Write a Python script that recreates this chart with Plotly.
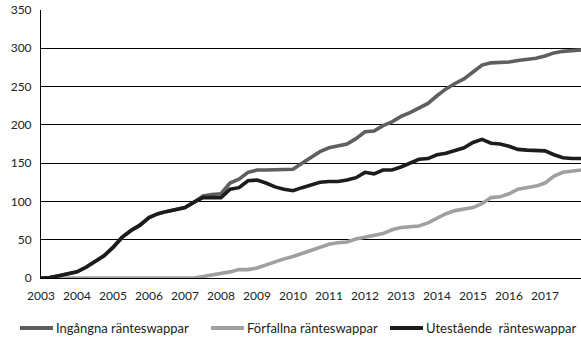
import plotly.graph_objects as go

# Quarterly observations, number of interest rate swaps
quarters = [2003 + 0.25 * i for i in range(61)]

ingangna = [0, 0.5, 3, 5, 8, 14, 22, 29, 40, 53, 62, 69, 79, 84, 87, 90, 92,
            99, 107, 109, 110, 124, 129, 138, 141, 141, 141, 141, 142, 150, 157,
            165, 170, 172, 175, 182, 191, 192, 199, 204, 211, 216, 222, 228, 238,
            247, 254, 260, 269, 278, 281, 281, 282, 284, 285, 287, 290, 294, 296,
            297, 298]

forfallna = [0, 0, 0, 0, 0, 0, 0, 0, 0, 0, 0, 0, 0, 0, 0, 0, 0,
             0, 2, 4, 5, 8, 11, 11, 13, 17, 22, 25, 28, 32, 36,
             40, 44, 46, 47, 51, 53, 56, 58, 63, 66, 67, 68, 72, 78,
             84, 88, 90, 92, 97, 105, 106, 110, 116, 118, 120, 124, 133, 138,
             140, 141]

utestaende = [0, 0.5, 3, 5, 8, 14, 22, 29, 40, 53, 62, 69, 79, 84, 87, 90, 92,
              99, 105, 105, 105, 116, 118, 127, 128, 124, 119, 116, 114, 118, 121,
              125, 126, 126, 128, 131, 138, 136, 141, 141, 145, 150, 155, 156, 161,
              163, 166, 170, 177, 181, 176, 175, 172, 168, 167, 167, 166, 161, 157,
              156, 156]

series = [
    ("Ingångna ränteswappar", ingangna, "#5f5f5f"),
    ("Förfallna ränteswappar", forfallna, "#a0a0a0"),
    ("Utestående  ränteswappar", utestaende, "#1c1c1c"),
]

year_ticks = list(range(2003, 2018))
y_ticks = list(range(0, 351, 50))

W, H = 581, 341
M_L, M_R, M_T, M_B = 41, 0, 10, 63
plot_w = W - M_L - M_R
plot_h = H - M_T - M_B

fig = go.Figure()
for name, values, color in series:
    fig.add_trace(go.Scatter(
        x=quarters, y=values, name=name, mode="lines",
        line=dict(color=color, width=3.6), showlegend=False,
    ))

# Key row below the axis: a short line sample followed by the series name
key_left_px = [20, 211, 390]
key_sample_px = 33
key_y_px = 328
key_y = -(key_y_px - (H - M_B)) / plot_h
for (name, _, color), left in zip(series, key_left_px):
    x0 = (left - M_L) / plot_w
    x1 = (left + key_sample_px - M_L) / plot_w
    fig.add_shape(type="line", xref="paper", yref="paper",
                  x0=x0, x1=x1, y0=key_y, y1=key_y,
                  line=dict(color=color, width=4))
    fig.add_annotation(xref="paper", yref="paper", x=x1, y=key_y,
                       xanchor="left", yanchor="middle", xshift=1,
                       text=name, showarrow=False,
                       font=dict(size=13, color="#222222"))

fig.update_layout(
    width=W, height=H,
    margin=dict(l=M_L, r=M_R, t=M_T, b=M_B, autoexpand=False),
    paper_bgcolor="white", plot_bgcolor="white",
    font=dict(family="Lato, Open Sans, sans-serif", size=12, color="#222222"),
    showlegend=False,
)

fig.update_xaxes(
    range=[2003, 2018], tickmode="array", tickvals=year_ticks,
    ticktext=[str(y) for y in year_ticks],
    showgrid=False, zeroline=False,
    showline=True, linecolor="#000000", linewidth=1,
    ticks="", ticklabelstandoff=7,
)
fig.update_yaxes(
    range=[0, 350], tickmode="array", tickvals=y_ticks,
    showgrid=True, gridcolor="#000000", gridwidth=1,
    zeroline=False, showline=True, linecolor="#000000", linewidth=1,
    ticks="", ticklabelstandoff=6,
)

fig.write_html("out.html")
